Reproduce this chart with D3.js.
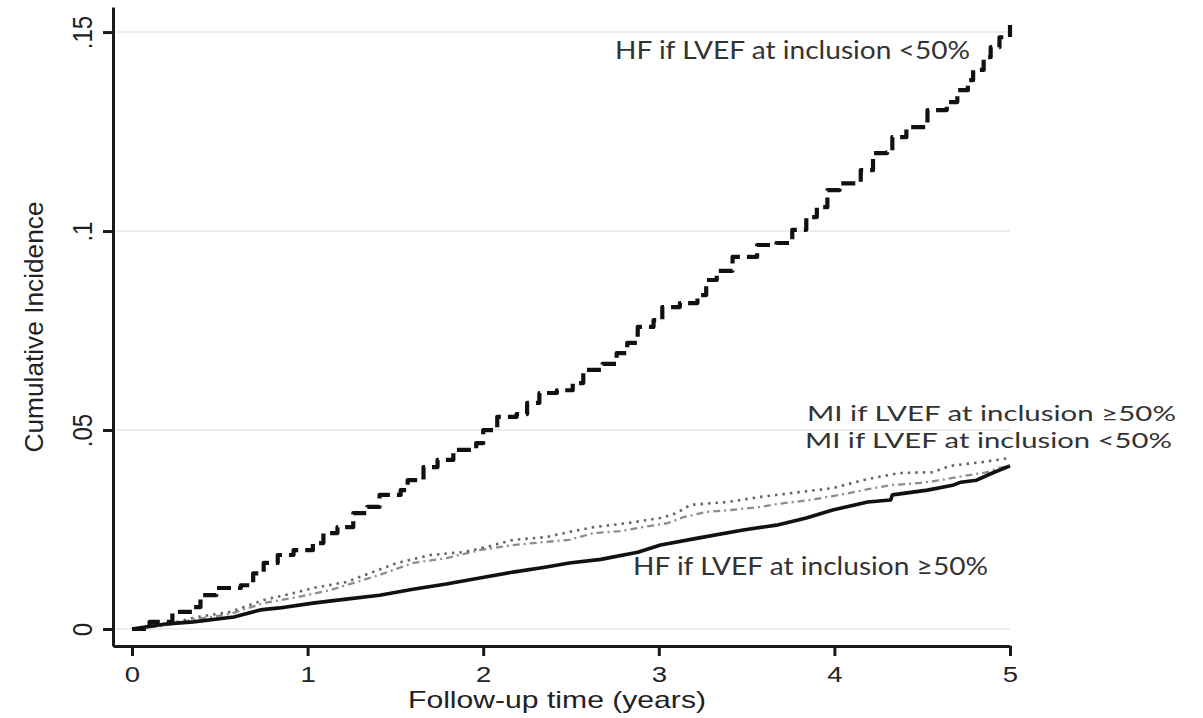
<!DOCTYPE html>
<html lang="en">
<head>
    <meta charset="UTF-8">
    <title>Cumulative Incidence</title>
    <style>
        body {
            margin: 0;
            background: #fff;
        }
        svg text {
            font-family: "Liberation Sans", Arial, sans-serif;
            fill: #222;
        }
        .note {
            font-family: Lato, "Noto Sans", sans-serif !important;
            fill: #333 !important;
        }
    </style>
    <script src="https://d3js.org/d3.v7.min.js"></script>
</head>
<body>
    <svg id="chart" width="1203" height="718"></svg>

    <script>
        // Follow-up time (years) and cumulative incidence
        const hfLowTime = [0, 0.10, 0.23, 0.35, 0.39, 0.48, 0.62, 0.69, 0.75, 0.83, 0.92, 1.03, 1.09, 1.17, 1.26,
            1.34, 1.41, 1.53, 1.57, 1.66, 1.74, 1.83, 1.96, 2.00, 2.08, 2.19, 2.25, 2.32, 2.42, 2.51, 2.57,
            2.68, 2.76, 2.82, 2.88, 2.97, 3.02, 3.12, 3.22, 3.27, 3.33, 3.42, 3.56, 3.67, 3.76, 3.84, 3.90,
            3.96, 4.03, 4.15, 4.22, 4.30, 4.33, 4.41, 4.53, 4.64, 4.70, 4.76, 4.79, 4.85, 4.89, 4.94, 5.00];
        const hfLowCI = [0, 0.0018, 0.0043, 0.0055, 0.0085, 0.0103, 0.011, 0.014, 0.0166, 0.0186, 0.0198, 0.0216,
            0.0241, 0.0256, 0.0291, 0.0307, 0.0337, 0.0349, 0.0374, 0.0407, 0.0425, 0.045, 0.0467, 0.050,
            0.0533, 0.054, 0.0568, 0.0593, 0.060, 0.0618, 0.0651, 0.0666, 0.0693, 0.0719, 0.0759, 0.0776,
            0.0809, 0.0819, 0.0839, 0.0877, 0.090, 0.0935, 0.0965, 0.097, 0.1003, 0.1035, 0.106, 0.1103,
            0.112, 0.1153, 0.1196, 0.1198, 0.1236, 0.1261, 0.1304, 0.1324, 0.1354, 0.1379, 0.1405, 0.1437,
            0.1462, 0.1487, 0.1518];

        const hfHighTime = [0, 0.20, 0.35, 0.58, 0.73, 0.84, 1.03, 1.22, 1.41, 1.60, 1.79, 1.98, 2.17, 2.36,
            2.49, 2.67, 2.88, 3.01, 3.23, 3.48, 3.67, 3.84, 3.99, 4.19, 4.32, 4.33, 4.53, 4.68, 4.72, 4.81,
            4.90, 5.00];
        const hfHighCI = [0, 0.0013, 0.0018, 0.003, 0.0048, 0.0053, 0.0065, 0.0075, 0.0085, 0.010, 0.0113,
            0.0128, 0.0143, 0.0156, 0.0166, 0.0175, 0.0193, 0.0211, 0.0229, 0.0249, 0.0261, 0.0279, 0.0299,
            0.0319, 0.0324, 0.0337, 0.0349, 0.0362, 0.0369, 0.0374, 0.0392, 0.041];

        const miHighTime = [0, 0.18, 0.37, 0.56, 0.75, 0.90, 1.03, 1.22, 1.37, 1.51, 1.70, 1.88, 2.02, 2.17,
            2.36, 2.49, 2.63, 2.82, 3.01, 3.10, 3.18, 3.39, 3.58, 3.80, 3.99, 4.19, 4.37, 4.56, 4.66, 4.85,
            4.96, 5.00];
        const miHighCI = [0, 0.001, 0.003, 0.0043, 0.0073, 0.0088, 0.0103, 0.0118, 0.0143, 0.0166, 0.0186,
            0.0193, 0.0206, 0.0224, 0.0231, 0.0244, 0.0256, 0.0266, 0.0279, 0.0291, 0.0312, 0.0319, 0.0332,
            0.0344, 0.0354, 0.0377, 0.0392, 0.0394, 0.041, 0.042, 0.0427, 0.043];

        const miLowTime = [0, 0.18, 0.37, 0.56, 0.75, 0.94, 1.13, 1.41, 1.60, 1.79, 1.98, 2.17, 2.36, 2.49,
            2.63, 2.78, 2.91, 3.05, 3.14, 3.27, 3.41, 3.58, 3.67, 3.86, 4.09, 4.20, 4.33, 4.49, 4.60, 4.73,
            4.87, 4.94, 5.00];
        const miLowCI = [0, 0.0008, 0.0025, 0.0038, 0.0065, 0.008, 0.0098, 0.0136, 0.0166, 0.0178, 0.0198,
            0.0211, 0.0219, 0.0224, 0.0241, 0.0246, 0.0256, 0.0266, 0.0281, 0.0294, 0.0299, 0.0307, 0.0314,
            0.0324, 0.0342, 0.0352, 0.0362, 0.0367, 0.0374, 0.0384, 0.0394, 0.0405, 0.041];

        const xTicks = [0, 1, 2, 3, 4, 5];
        const yTicks = [0, 0.05, 0.1, 0.15];
        const yTickLabels = ["0", ".05", ".1", ".15"];

        const svg = d3.select("#chart");

        // axes start a bit before zero, like the Stata graph
        const x = d3.scaleLinear().domain([-0.1082, 5]).range([113, 1010]);
        const y = d3.scaleLinear().domain([-0.00427, 0.1563]).range([646, 7]);

        // grid lines
        svg.append("g")
            .selectAll("line")
            .data(yTicks)
            .enter()
            .append("line")
            .attr("x1", x(-0.1082))
            .attr("x2", x(5))
            .attr("y1", d => y(d))
            .attr("y2", d => y(d))
            .attr("stroke", "#e9efee")
            .attr("stroke-width", 2);

        // y axis
        const yAxis = svg.append("g")
            .attr("transform", "translate(113,0)")
            .call(d3.axisLeft(y)
                .tickValues(yTicks)
                .tickFormat((d, i) => yTickLabels[i])
                .tickSize(10)
                .tickSizeOuter(0));
        yAxis.selectAll(".tick text")
            .attr("x", null)
            .attr("dy", null)
            .attr("transform", "translate(-21,0) scale(1.15,1) rotate(-90)")
            .attr("text-anchor", "middle")
            .attr("font-size", 24)
            .style("font-size", "24px");

        // x axis
        const xAxis = svg.append("g")
            .attr("transform", "translate(0,646)")
            .call(d3.axisBottom(x)
                .tickValues(xTicks)
                .tickFormat(d3.format("d"))
                .tickSize(10)
                .tickSizeOuter(0));
        xAxis.selectAll(".tick text")
            .attr("dy", null)
            .attr("y", 0)
            .attr("transform", "translate(0,36) scale(1.25,1)")
            .attr("font-size", 22)
            .style("font-size", "22px");

        svg.selectAll(".domain, .tick line")
            .attr("stroke", "#1a1a1a")
            .attr("stroke-width", 3);

        // axis titles
        svg.append("text")
            .attr("transform", "translate(43,327) rotate(-90)")
            .attr("text-anchor", "middle")
            .style("font-size", "25px")
            .attr("textLength", 251)
            .attr("lengthAdjust", "spacingAndGlyphs")
            .text("Cumulative Incidence");

        svg.append("text")
            .attr("x", 557)
            .attr("y", 708)
            .attr("text-anchor", "middle")
            .style("font-size", "24px")
            .attr("textLength", 298)
            .attr("lengthAdjust", "spacingAndGlyphs")
            .text("Follow-up time (years)");

        // curves
        const zip = (t, v) => t.map((d, i) => [d, v[i]]);

        const series = [
            { pts: zip(miLowTime, miLowCI), color: "#8c8c8c", width: 2.3, dash: "7,4,2,4", curve: d3.curveLinear },
            { pts: zip(miHighTime, miHighCI), color: "#666", width: 2.6, dash: "2.5,5", curve: d3.curveLinear },
            { pts: zip(hfHighTime, hfHighCI), color: "#111", width: 3.6, dash: null, curve: d3.curveLinear },
            { pts: zip(hfLowTime, hfLowCI), color: "#111", width: 4.2, dash: "14,7", curve: d3.curveStepAfter }
        ];

        series.forEach(s => {
            svg.append("path")
                .datum(s.pts)
                .attr("fill", "none")
                .attr("stroke", s.color)
                .attr("stroke-width", s.width)
                .attr("stroke-dasharray", s.dash)
                .attr("stroke-linejoin", "round")
                .attr("d", d3.line()
                    .x(d => x(d[0]))
                    .y(d => y(d[1]))
                    .curve(s.curve));
        });

        // curve labels
        const notes = [
            { text: "HF if LVEF at inclusion <50%", x: 615, y: 59, len: 355, size: 25 },
            { text: "MI if LVEF at inclusion \u226550%", x: 807, y: 421, len: 369, size: 22 },
            { text: "MI if LVEF at inclusion <50%", x: 805, y: 448, len: 367, size: 22 },
            { text: "HF if LVEF at inclusion \u226550%", x: 633, y: 575, len: 355, size: 25 }
        ];

        svg.append("g")
            .selectAll("text")
            .data(notes)
            .enter()
            .append("text")
            .attr("class", "note")
            .attr("x", d => d.x)
            .attr("y", d => d.y)
            .attr("textLength", d => d.len)
            .attr("lengthAdjust", "spacingAndGlyphs")
            .style("font-size", d => d.size + "px")
            .text(d => d.text);
    </script>
</body>
</html>
